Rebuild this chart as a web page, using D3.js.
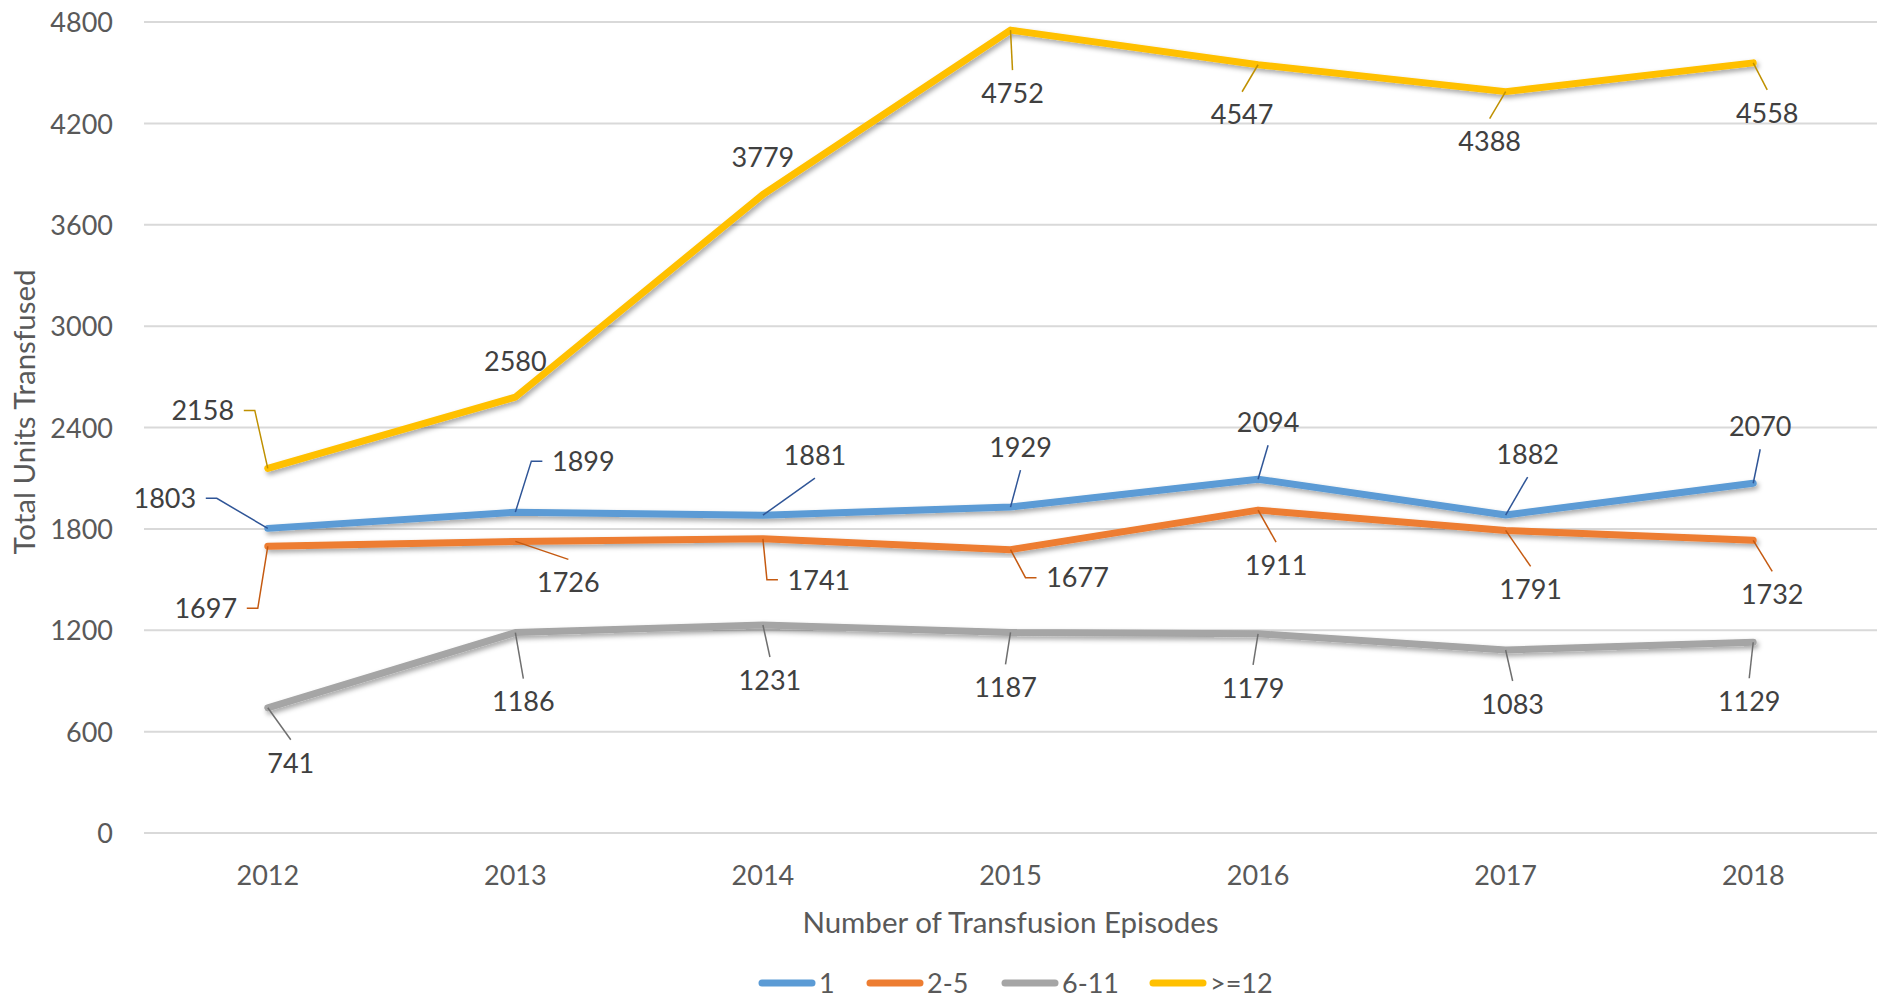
<!DOCTYPE html>
<meta charset="utf-8">
<script src="https://cdn.jsdelivr.net/npm/d3@7"></script>
<style>
    body { margin: 0; background: #fff; }
    text { font-family: Lato, "Open Sans", sans-serif; }
</style>
<div id="chart"></div>
<script>

    // data
    var years = ["2012", "2013", "2014", "2015", "2016", "2017", "2018"];
    var seriesNames = ["1", "2-5", "6-11", ">=12"];
    var ep1 = [1803, 1899, 1881, 1929, 2094, 1882, 2070];
    var ep2to5 = [1697, 1726, 1741, 1677, 1911, 1791, 1732];
    var ep6to11 = [741, 1186, 1231, 1187, 1179, 1083, 1129];
    var ep12plus = [2158, 2580, 3779, 4752, 4547, 4388, 4558];
    var yTicks = [0, 600, 1200, 1800, 2400, 3000, 3600, 4200, 4800];

    var colors = ["#5B9BD5", "#ED7D31", "#A5A5A5", "#FFC000"];
    var leaderColors = ["#2F5597", "#C55A11", "#6f6f6f", "#BF9000"];

    // label placement (offset of label centre from its point, leader style)
    // e = elbow leader, s = straight leader, n = no leader
    var labelPos = [
        [[-103, -30, "e"], [68, -51, "e"], [52, -60, "s"], [10, -60, "s"], [10, -57, "s"], [22, -61, "s"], [7, -57, "s"]],
        [[-62, 62, "e"], [53, 41, "s"], [56, 41, "e"], [67, 28, "e"], [18, 55, "s"], [25, 59, "s"], [19, 54, "s"]],
        [[23, 55, "s"], [8, 69, "s"], [7, 55, "s"], [-5, 55, "s"], [-5, 54, "s"], [7, 54, "s"], [-4, 59, "s"]],
        [[-65, -58, "e"], [0, -36, "n"], [0, -37, "n"], [2, 63, "s"], [-16, 50, "s"], [-16, 50, "s"], [14, 50, "s"]]
    ];

    var allSeries = [ep1, ep2to5, ep6to11, ep12plus];

    var W = 1887, H = 1000;
    var margin = { top: 22, right: 10, bottom: 167, left: 144 };
    var width = W - margin.left - margin.right,
        height = H - margin.top - margin.bottom;

    var svg = d3.select("#chart")
        .append("svg")
        .attr("width", W)
        .attr("height", H);

    // soft shadow like the office chart style
    var defs = svg.append("defs");
    var f = defs.append("filter").attr("id", "shadow")
        .attr("x", "-5%").attr("y", "-20%").attr("width", "110%").attr("height", "140%");
    f.append("feDropShadow")
        .attr("dx", 2).attr("dy", 3).attr("stdDeviation", 2.5)
        .attr("flood-color", "#000").attr("flood-opacity", 0.35);

    var g = svg.append("g")
        .attr("transform", "translate(" + margin.left + "," + margin.top + ")");

    var x = d3.scaleBand()
        .domain(years)
        .range([0, width]);

    var y = d3.scaleLinear()
        .domain([0, 4800])
        .range([height, 0]);

    // gridlines
    g.append("g")
        .selectAll("line")
        .data(yTicks)
        .enter()
        .append("line")
        .attr("x1", 0)
        .attr("x2", width)
        .attr("y1", function (d) { return y(d); })
        .attr("y2", function (d) { return y(d); })
        .attr("stroke", "#d9d9d9")
        .attr("stroke-width", 2);

    // Y axis labels
    var yAxis = g.append("g")
        .attr("transform", "translate(-31,0)")
        .call(d3.axisLeft(y).tickValues(yTicks).tickFormat(d3.format("d")).tickSize(0).tickPadding(0));
    yAxis.select(".domain").remove();
    yAxis.selectAll("text")
        .attr("font-family", "Lato, sans-serif")
        .attr("font-size", "27px")
        .attr("fill", "#595959")
        .attr("dy", "0.36em");

    // X axis labels
    var xAxis = g.append("g")
        .attr("transform", "translate(0," + height + ")")
        .call(d3.axisBottom(x).tickSize(0).tickPadding(0));
    xAxis.select(".domain").remove();
    xAxis.selectAll("text")
        .attr("font-family", "Lato, sans-serif")
        .attr("font-size", "27px")
        .attr("fill", "#595959")
        .attr("y", 42)
        .attr("dy", "0.36em");

    // axis titles
    svg.append("text")
        .attr("text-anchor", "middle")
        .attr("x", margin.left + width / 2)
        .attr("y", 922)
        .attr("dy", "0.36em")
        .attr("font-size", "29.5px")
        .attr("fill", "#595959")
        .text("Number of Transfusion Episodes");

    svg.append("text")
        .attr("text-anchor", "middle")
        .attr("transform", "translate(24,412) rotate(-90)")
        .attr("dy", "0.36em")
        .attr("font-size", "29.5px")
        .attr("fill", "#595959")
        .text("Total Units Transfused");

    var px = function (i) { return x(years[i]) + x.bandwidth() / 2; };

    var line = d3.line()
        .x(function (d, i) { return px(i); })
        .y(function (d) { return y(d); });

    // lines
    g.append("g")
        .selectAll("path")
        .data(allSeries)
        .enter()
        .append("path")
        .attr("d", line)
        .attr("fill", "none")
        .attr("stroke", function (d, i) { return colors[i]; })
        .attr("stroke-width", 7)
        .attr("stroke-linejoin", "round")
        .attr("stroke-linecap", "round")
        .attr("filter", "url(#shadow)");

    // data labels with leader lines
    var labels = g.append("g");
    allSeries.forEach(function (vals, s) {
        vals.forEach(function (v, i) {
            var p = [px(i), y(v)];
            var lp = labelPos[s][i];
            var cx = p[0] + lp[0], cy = p[1] + lp[1];
            var pts = null;
            if (lp[2] === "e") {
                var side = lp[0] < 0 ? 1 : -1;
                pts = [p, [cx + side * 52, cy], [cx + side * 41, cy]];
            } else if (lp[2] === "s") {
                var vs = lp[1] < 0 ? 1 : -1;
                pts = [p, [cx, cy + vs * 23]];
            }
            if (pts) {
                labels.append("path")
                    .attr("d", d3.line()(pts))
                    .attr("fill", "none")
                    .attr("stroke", leaderColors[s])
                    .attr("stroke-width", 1.5);
            }
            labels.append("text")
                .attr("x", cx)
                .attr("y", cy)
                .attr("dy", "0.36em")
                .attr("text-anchor", "middle")
                .attr("font-size", "27px")
                .attr("fill", "#404040")
                .text(v);
        });
    });

    // legend
    var legendX = [758, 866, 1001, 1149];
    var legend = svg.append("g");
    seriesNames.forEach(function (name, i) {
        legend.append("line")
            .attr("x1", legendX[i] + 4)
            .attr("x2", legendX[i] + 54)
            .attr("y1", 983)
            .attr("y2", 983)
            .attr("stroke", colors[i])
            .attr("stroke-width", 7)
            .attr("stroke-linecap", "round");
        legend.append("text")
            .attr("x", legendX[i] + 61)
            .attr("y", 983)
            .attr("dy", "0.36em")
            .attr("font-size", "27px")
            .attr("fill", "#595959")
            .text(name);
    });

</script>
